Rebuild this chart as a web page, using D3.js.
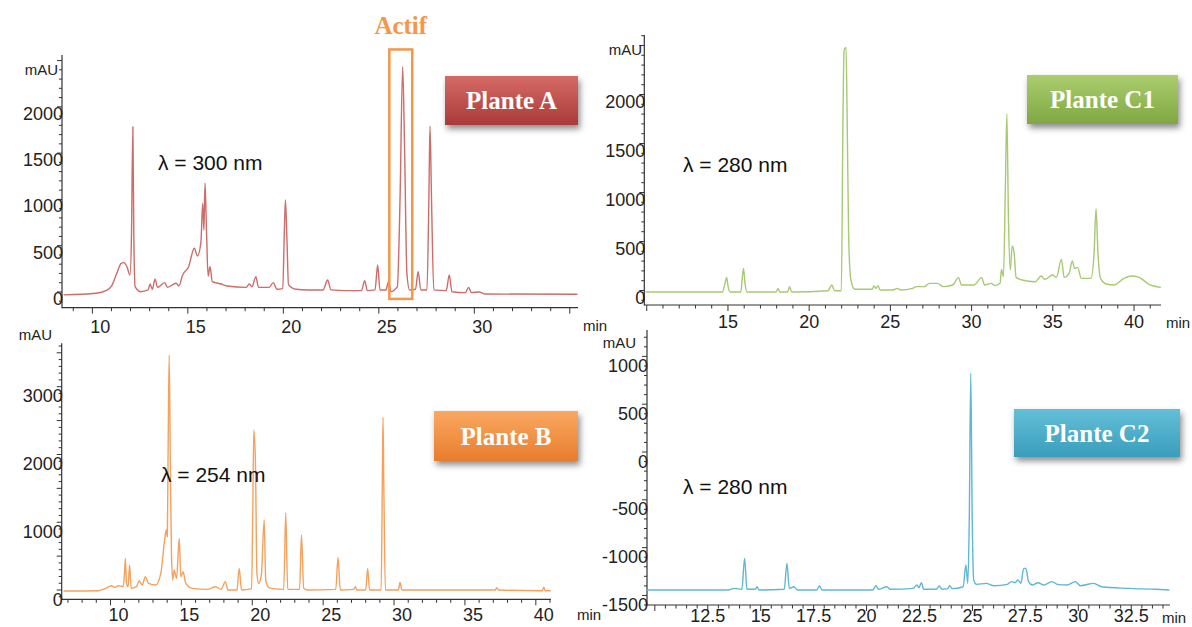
<!DOCTYPE html>
<html><head><meta charset="utf-8">
<script src="https://cdn.jsdelivr.net/npm/d3@7"></script>
<style>
body{margin:0;background:#fff;}
svg{display:block;font-family:"Liberation Sans",Arial,sans-serif;}
</style>
</head><body>
<svg id="chart" width="1192" height="627"></svg>
<script>
// ---------- DATA ----------
// Plante A, λ = 300 nm
const aTime = [8.49,10.2,10.71,11.01,11.31,11.51,11.65,11.81,11.97,12.05,12.12,12.17,12.24,12.52,12.92,13.02,13.14,13.28,13.42,13.79,13.93,14.39,14.53,14.73,15.04,15.34,15.5,15.68,15.78,15.84,15.9,15.98,16.06,16.16,16.28,16.75,17.05,18.06,18.22,18.36,18.56,18.7,19.26,19.47,19.67,19.97,20.05,20.11,20.19,20.27,20.67,21.28,22.08,22.32,22.49,23.29,24.09,24.26,24.4,24.8,24.94,25.06,25.37,25.51,25.63,25.97,26.11,26.25,26.35,26.47,26.61,26.92,27.06,27.2,27.52,27.62,27.68,27.76,27.88,28.53,28.69,28.83,29.53,29.7,29.85,30.24,30.54,35.4];
const aMAU  = [-32,-14,14,65,219,310,317,273,184,634,1785,634,57,3,22,86,29,137,50,101,50,94,65,184,273,472,389,526,958,670,1174,634,173,273,112,86,65,50,86,57,166,50,50,101,29,36,634,994,562,79,29,22,22,130,22,14,14,122,14,22,292,22,22,112,3,57,994,2433,1533,202,22,29,220,22,22,994,1793,994,22,14,184,3,-7,50,-7,0,-22,-25];
// Plante B, λ = 254 nm
const bTime = [6.69,9.13,9.67,10.07,10.29,10.56,10.89,10.99,11.05,11.13,11.24,11.35,11.46,11.83,12.02,12.24,12.46,12.68,13.19,13.55,13.82,13.93,14.01,14.06,14.14,14.22,14.3,14.39,14.49,14.66,14.85,14.96,15.12,15.31,15.77,16.85,17.4,17.8,18.1,18.29,18.92,19.08,19.24,19.95,20.03,20.11,20.22,20.33,20.46,20.65,20.84,20.95,21.11,21.33,22.22,22.36,22.5,23.34,23.47,23.63,23.91,25.89,26.05,26.21,27.16,27.27,27.38,28.0,28.14,28.27,29.09,29.17,29.22,29.28,29.39,30.31,30.42,30.55,34.35,37.14,37.25,37.36,40.45,40.56,40.67,41.05];
const bMAU  = [-15,-10,25,64,39,64,49,246,467,98,49,369,25,49,138,74,197,98,74,246,738,885,787,1918,3468,1918,541,148,295,172,762,197,270,98,25,10,49,10,123,0,0,320,0,20,1033,2361,1918,246,98,246,1033,148,49,25,10,1141,10,10,812,25,0,10,482,0,10,49,0,0,320,0,0,1524,2548,1524,0,0,113,0,0,0,35,0,-10,40,-10,-10];
// Plante C1, λ = 280 nm
const c1Time = [9.93,12.88,14.66,14.82,14.92,15.01,15.13,15.79,15.89,15.96,16.05,16.19,17.97,18.08,18.2,18.68,18.79,18.93,21.16,21.39,21.56,21.98,22.08,22.15,22.27,22.34,22.43,22.57,22.81,23.87,23.99,24.11,24.23,24.37,25.18,25.41,25.65,26.36,26.6,27.07,27.42,27.9,28.25,28.84,29.19,29.38,30.14,30.62,30.8,31.21,31.44,31.75,31.84,31.96,32.08,32.17,32.27,32.38,32.5,32.62,32.74,33.1,33.92,34.28,34.51,34.99,35.22,35.53,35.7,36.0,36.2,36.34,36.52,36.76,37.35,37.54,37.66,37.78,37.94,38.3,38.77,39.36,39.83,40.31,40.89,41.65];
const c1MAU  = [-15,-15,-15,73,134,39,-15,-15,141,226,73,-15,-15,22,-15,-15,39,-15,-2,56,-2,-2,1740,2454,2481,1740,549,107,12,12,46,22,50,5,5,22,5,22,39,39,73,73,39,56,131,56,56,131,56,73,50,73,216,141,1059,1801,719,209,454,379,134,107,90,148,114,158,134,318,134,175,301,226,236,124,124,379,835,379,124,66,56,121,148,134,66,32];
// Plante C2, λ = 280 nm
const c2Time = [9.62,13.48,13.75,14.11,14.24,14.35,14.75,14.82,14.93,16.11,16.24,16.35,16.56,16.75,17.65,17.78,17.89,20.29,20.44,20.56,20.96,21.11,22.2,22.38,22.47,22.59,22.7,23.29,23.43,23.56,23.83,23.92,24.05,24.56,24.69,24.78,24.85,24.92,24.99,25.06,25.19,25.65,26.01,26.65,26.83,27.01,27.14,27.29,27.42,27.52,27.65,27.83,28.1,28.37,28.74,29.01,29.46,29.86,30.1,30.73,31.1,32.37,33.64,34.3];
const c2MAU  = [-1443,-1443,-1426,-1436,-1112,-1436,-1436,-1409,-1443,-1436,-1165,-1426,-1409,-1443,-1443,-1402,-1443,-1443,-1398,-1436,-1409,-1436,-1426,-1391,-1419,-1367,-1436,-1436,-1402,-1436,-1429,-1398,-1429,-1409,-1182,-1374,-711,823,-711,-1339,-1384,-1374,-1398,-1384,-1356,-1367,-1339,-1374,-1217,-1217,-1356,-1391,-1367,-1391,-1356,-1384,-1391,-1356,-1398,-1374,-1409,-1426,-1436,-1443];

// axis domains and tick labels
const aXDomain = [8.41, 35.43], aYDomain = [-170, 2560];
const bXDomain = [6.56, 41.07], bYDomain = [-137, 3640];
const c1XDomain = [9.85, 41.66], c1YDomain = [-148, 2607];
const c2XDomain = [9.63, 34.33], c2YDomain = [-1600, 1276];
const aXTicks = [10,15,20,25,30], aYTicks = [0,500,1000,1500,2000];
const bXTicks = [10,15,20,25,30,35,40], bYTicks = [0,1000,2000,3000];
const c1XTicks = [15,20,25,30,35,40], c1YTicks = [0,500,1000,1500,2000];
const c2XTicks = [12.5,15,17.5,20,22.5,25,27.5,30,32.5], c2YTicks = [-1500,-1000,-500,0,500,1000];
const names = ["Plante A","Plante B","Plante C1","Plante C2"];
const wavelengths = ["λ = 300 nm","λ = 254 nm","λ = 280 nm","λ = 280 nm"];
const actifRange = [25.55, 26.75], actifMAU = [-75, 2620];

// ---------- LAYOUT ----------
const panels = [
  {name:names[0], lam:wavelengths[0], t:aTime, v:aMAU, xd:aXDomain, yd:aYDomain, xt:aXTicks, yt:aYTicks,
   xr:[62,578], yr:[307.7,55], xMinor:1, yMinor:100, xMajor:5, xLabDx:8, xLabY:333, yLabDy:13,
   color:"#cf6b68", g1:"#d66a66", g2:"#a93b39",
   box:[445,76,133,49], lamPos:[158,170], mau:[58,75], minPos:[583,331]},
  {name:names[1], lam:wavelengths[1], t:bTime, v:bMAU, xd:bXDomain, yd:bYDomain, xt:bXTicks, yt:bYTicks,
   xr:[61.7,551], yr:[599.3,343.3], xMinor:1, yMinor:100, xMajor:5, xLabDx:8, xLabY:621, yLabDy:15.5,
   color:"#f7a05c", g1:"#fba862", g2:"#e77d2c",
   box:[434,411,144,50], lamPos:[161,482], mau:[52,340], minPos:[577,620]},
  {name:names[2], lam:wavelengths[2], t:c1Time, v:c1MAU, xd:c1XDomain, yd:c1YDomain, xt:c1XTicks, yt:c1YTicks,
   xr:[644.3,1161], yr:[305,35], xMinor:1, yMinor:100, xMajor:5, xLabDx:0, xLabY:328, yLabDy:14,
   color:"#a7c972", g1:"#abce6e", g2:"#80a743",
   box:[1027,75,151,49], lamPos:[683,172], mau:[642,55], minPos:[1166,328]},
  {name:names[3], lam:wavelengths[3], t:c2Time, v:c2MAU, xd:c2XDomain, yd:c2YDomain, xt:c2XTicks, yt:c2YTicks,
   xr:[647,1170], yr:[605,330], xMinor:0.5, yMinor:100, xMajor:2.5, xLabDx:0, xLabY:622, yLabDy:15.5,
   color:"#5fb7d1", g1:"#64bfd8", g2:"#3a9dbb",
   box:[1014,409,166,48], lamPos:[683,494], mau:[636,348], minPos:[1162,623]}
];

const svg = d3.select("#chart");
const defs = svg.append("defs");
const f = defs.append("filter").attr("id","shadow").attr("x","-20%").attr("y","-20%").attr("width","150%").attr("height","170%");
f.append("feDropShadow").attr("dx",2).attr("dy",4).attr("stdDeviation",3).attr("flood-color","#000").attr("flood-opacity",0.45);

panels.forEach((p,i) => {
  const x = d3.scaleLinear().domain(p.xd).range(p.xr);
  const y = d3.scaleLinear().domain(p.yd).range(p.yr);
  const g = svg.append("g");
  const axisColor = "#333";

  g.append("line").attr("x1",p.xr[0]).attr("x2",p.xr[0]).attr("y1",p.yr[1]).attr("y2",p.yr[0]+0.5)
    .attr("stroke",axisColor).attr("stroke-width",1.2);
  g.append("line").attr("x1",p.xr[0]).attr("x2",p.xr[1]).attr("y1",p.yr[0]).attr("y2",p.yr[0])
    .attr("stroke",axisColor).attr("stroke-width",1.2);

  const yMinorTicks = d3.range(Math.ceil(p.yd[0]/p.yMinor)*p.yMinor, p.yd[1], p.yMinor);
  g.selectAll(".ymt").data(yMinorTicks).join("line")
    .attr("x1",p.xr[0]).attr("x2",d => p.xr[0] - (d % 500 === 0 ? 5 : 3))
    .attr("y1",d=>y(d)).attr("y2",d=>y(d)).attr("stroke",axisColor).attr("stroke-width",1);
  g.selectAll(".ylab").data(p.yt).join("text")
    .attr("x",p.xr[0]+1).attr("y",d=>y(d)+p.yLabDy).attr("text-anchor","end")
    .attr("font-size",18).attr("fill","#222").text(d=>d);

  const xMinorTicks = d3.range(Math.ceil(p.xd[0]/p.xMinor)*p.xMinor, p.xd[1], p.xMinor);
  g.selectAll(".xmt").data(xMinorTicks).join("line")
    .attr("x1",d=>x(d)).attr("x2",d=>x(d)).attr("y1",p.yr[0])
    .attr("y2",d => p.yr[0] + (Math.abs(d/p.xMajor - Math.round(d/p.xMajor))<1e-6 ? 6 : 3.5))
    .attr("stroke",axisColor).attr("stroke-width",1);
  g.selectAll(".xlab").data(p.xt).join("text")
    .attr("x",d=>x(d)+p.xLabDx).attr("y",p.xLabY).attr("text-anchor","middle")
    .attr("font-size",18).attr("fill","#222").text(d=>d);

  g.append("text").attr("x",p.mau[0]).attr("y",p.mau[1]).attr("text-anchor","end")
    .attr("font-size",15).attr("fill","#222").text("mAU");
  g.append("text").attr("x",p.minPos[0]).attr("y",p.minPos[1]).attr("text-anchor","start")
    .attr("font-size",15).attr("fill","#222").text("min");

  const pts = p.t.map((t,k)=>[t,p.v[k]]);
  g.append("path").datum(pts)
    .attr("d", d3.line().x(d=>x(d[0])).y(d=>y(d[1])).curve(d3.curveMonotoneX))
    .attr("fill","none").attr("stroke",p.color).attr("stroke-width",1.4).attr("stroke-linejoin","round");

  g.append("text").attr("x",p.lamPos[0]).attr("y",p.lamPos[1]).attr("font-size",21).attr("fill","#111").text(p.lam);

  const gid = "grad"+i;
  const lg = defs.append("linearGradient").attr("id",gid).attr("x1",0).attr("y1",0).attr("x2",0).attr("y2",1);
  lg.append("stop").attr("offset","0%").attr("stop-color",p.g1);
  lg.append("stop").attr("offset","100%").attr("stop-color",p.g2);
  const [bx,by,bw,bh] = p.box;
  g.append("rect").attr("x",bx).attr("y",by).attr("width",bw).attr("height",bh)
    .attr("fill",`url(#${gid})`).attr("filter","url(#shadow)");
  g.append("text").attr("x",bx+bw/2).attr("y",by+bh/2+8.5).attr("text-anchor","middle")
    .attr("font-family","'Liberation Serif','DejaVu Serif',serif").attr("font-weight","bold")
    .attr("font-size",25).attr("fill","#fff").text(p.name);

  if (i===0) {
    g.append("rect").attr("x",x(actifRange[0])).attr("y",y(actifMAU[1]))
      .attr("width",x(actifRange[1])-x(actifRange[0])).attr("height",y(actifMAU[0])-y(actifMAU[1]))
      .attr("fill","none").attr("stroke","#f79646").attr("stroke-width",2.5);
    g.append("text").attr("x",(x(actifRange[0])+x(actifRange[1]))/2).attr("y",34)
      .attr("text-anchor","middle").attr("font-family","'Liberation Serif','DejaVu Serif',serif")
      .attr("font-weight","bold").attr("font-size",25).attr("fill","#f79646").text("Actif");
  }
});
</script>
</body></html>
